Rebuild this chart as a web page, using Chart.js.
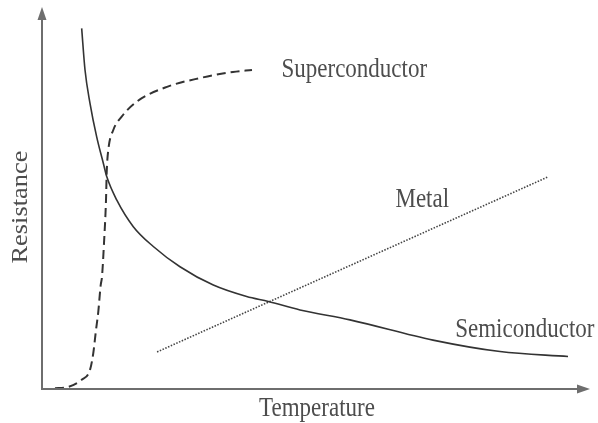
<!DOCTYPE html>
<html>
<head>
<meta charset="utf-8">
<script src="https://cdn.jsdelivr.net/npm/chart.js@4"></script>
<style>
  html, body { margin: 0; padding: 0; background: #fff; }
  #wrap { width: 598px; height: 423px; }
</style>
</head>
<body>
<div id="wrap"><canvas id="chart"></canvas></div>
<script>
// --- Data (arbitrary units, 0..100 on both axes) ---
const semiX = [7.24, 7.85, 8.76, 9.98, 11.19, 11.81, 13.63, 16.66, 20.31, 25.18, 31.26, 37.35, 41.30, 47.08, 56.20, 71.35, 83.58, 95.99];
const semiY = [94.4, 83.5, 74.8, 66.0, 59.1, 55.6, 49.5, 42.5, 37.3, 32.0, 27.2, 24.2, 22.9, 20.7, 18.1, 12.8, 9.8, 8.5];

const metalX = [21.0, 92.3];
const metalY = [9.7, 55.5];

const superX = [2.37, 4.51, 7.24, 8.76, 9.36, 9.85, 10.27, 10.71, 10.95, 11.31, 11.68, 11.81, 12.10, 13.01, 14.54, 17.28, 22.81, 28.83, 34.85, 38.32];
const superY = [0.2, 0.45, 2.4, 5.0, 9.4, 15.4, 20.2, 27.2, 29.4, 38.1, 49.5, 56.8, 62.6, 67.8, 71.3, 75.2, 79.1, 81.4, 83.0, 83.5];

const seriesLabels = ['Semiconductor', 'Metal', 'Superconductor'];
const axisLabels = { x: 'Temperature', y: 'Resistance' };

const toPoints = (xs, ys) => xs.map((x, i) => ({ x: x, y: ys[i] }));

const LINE = '#333';
const AXIS = '#6e6e6e';
const TEXT = '#4d4d4d';
const FONT = '23px "Liberation Serif", "DejaVu Serif", serif';

// draws arrowed axes and the text labels
const annotate = {
    id: 'annotate',
    afterDraw(chart) {
        const ctx = chart.ctx;
        const a = chart.chartArea;
        const sx = chart.scales.x;

        ctx.save();
        ctx.strokeStyle = AXIS;
        ctx.fillStyle = AXIS;
        ctx.lineWidth = 2;
        ctx.beginPath();
        ctx.moveTo(a.left, a.top + 8);
        ctx.lineTo(a.left, a.bottom);
        ctx.lineTo(a.right - 8, a.bottom);
        ctx.stroke();
        // y arrow
        ctx.beginPath();
        ctx.moveTo(a.left, a.top);
        ctx.lineTo(a.left - 4.5, a.top + 13);
        ctx.lineTo(a.left + 4.5, a.top + 13);
        ctx.closePath();
        ctx.fill();
        // x arrow
        ctx.beginPath();
        ctx.moveTo(a.right, a.bottom);
        ctx.lineTo(a.right - 13, a.bottom - 4.5);
        ctx.lineTo(a.right - 13, a.bottom + 4.5);
        ctx.closePath();
        ctx.fill();

        ctx.fillStyle = TEXT;
        ctx.font = FONT;
        ctx.textBaseline = 'alphabetic';
        const put = (text, x, y, align) => {
            ctx.save();
            ctx.textAlign = align;
            ctx.translate(x, y);
            ctx.scale(1, 1.15);
            ctx.fillText(text, 0, 0);
            ctx.restore();
        };
        put(seriesLabels[2], sx.getPixelForValue(43.7), 77, 'left');
        put(seriesLabels[1], sx.getPixelForValue(64.5), 207, 'left');
        put(seriesLabels[0], sx.getPixelForValue(75.4), 337, 'left');
        put(axisLabels.x, (a.left + a.right) / 2 + 1, 416, 'center');

        ctx.save();
        ctx.translate(27, 207);
        ctx.scale(1, 1.15);
        ctx.rotate(-Math.PI / 2);
        ctx.textAlign = 'center';
        ctx.fillText(axisLabels.y, 0, 0);
        ctx.restore();
        ctx.restore();
    }
};

new Chart(document.getElementById('chart'), {
    type: 'line',
    data: {
        datasets: [
            {
                label: seriesLabels[0],
                data: toPoints(semiX, semiY),
                borderColor: LINE,
                borderWidth: 1.6,
                pointRadius: 0,
                cubicInterpolationMode: 'monotone',
                fill: false
            },
            {
                label: seriesLabels[1],
                data: toPoints(metalX, metalY),
                borderColor: '#444',
                borderWidth: 1.6,
                borderDash: [1.5, 1.5],
                pointRadius: 0,
                fill: false
            },
            {
                label: seriesLabels[2],
                data: toPoints(superX, superY),
                borderColor: LINE,
                borderWidth: 2,
                borderDash: [9, 5],
                pointRadius: 0,
                cubicInterpolationMode: 'monotone',
                fill: false
            }
        ]
    },
    options: {
        responsive: true,
        maintainAspectRatio: false,
        animation: false,
        layout: { padding: { left: 42, right: 8, top: 7, bottom: 34 } },
        plugins: {
            legend: { display: false },
            tooltip: { enabled: false }
        },
        scales: {
            x: { type: 'linear', min: 0, max: 100, display: false },
            y: { type: 'linear', min: 0, max: 100, display: false }
        }
    },
    plugins: [annotate]
});
</script>
</body>
</html>
